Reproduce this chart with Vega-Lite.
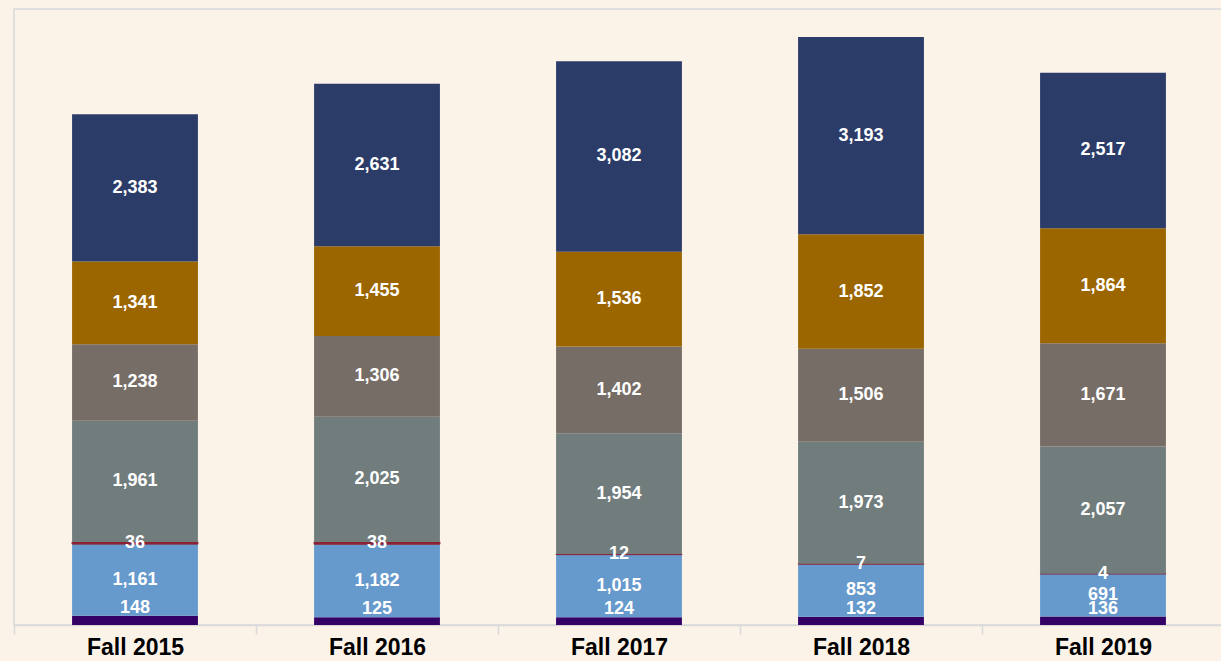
{
  "$schema": "https://vega.github.io/schema/vega-lite/v6.json",
  "width": 1210,
  "height": 616,
  "autosize": {"type": "none"},
  "padding": {"left": 14, "top": 9, "right": 0, "bottom": 36},
  "background": "#FBF2E8",
  "config": {"view": {"stroke": "#d9d9d9", "strokeWidth": 1.5}, "font": "Liberation Sans"},
  "data": {
    "values": [
      {"year": "Fall 2015", "series": "Series 1", "order": 1, "value": 148},
      {"year": "Fall 2015", "series": "Series 2", "order": 2, "value": 1161},
      {"year": "Fall 2015", "series": "Series 3", "order": 3, "value": 36},
      {"year": "Fall 2015", "series": "Series 4", "order": 4, "value": 1961},
      {"year": "Fall 2015", "series": "Series 5", "order": 5, "value": 1238},
      {"year": "Fall 2015", "series": "Series 6", "order": 6, "value": 1341},
      {"year": "Fall 2015", "series": "Series 7", "order": 7, "value": 2383},
      {"year": "Fall 2016", "series": "Series 1", "order": 1, "value": 125},
      {"year": "Fall 2016", "series": "Series 2", "order": 2, "value": 1182},
      {"year": "Fall 2016", "series": "Series 3", "order": 3, "value": 38},
      {"year": "Fall 2016", "series": "Series 4", "order": 4, "value": 2025},
      {"year": "Fall 2016", "series": "Series 5", "order": 5, "value": 1306},
      {"year": "Fall 2016", "series": "Series 6", "order": 6, "value": 1455},
      {"year": "Fall 2016", "series": "Series 7", "order": 7, "value": 2631},
      {"year": "Fall 2017", "series": "Series 1", "order": 1, "value": 124},
      {"year": "Fall 2017", "series": "Series 2", "order": 2, "value": 1015},
      {"year": "Fall 2017", "series": "Series 3", "order": 3, "value": 12},
      {"year": "Fall 2017", "series": "Series 4", "order": 4, "value": 1954},
      {"year": "Fall 2017", "series": "Series 5", "order": 5, "value": 1402},
      {"year": "Fall 2017", "series": "Series 6", "order": 6, "value": 1536},
      {"year": "Fall 2017", "series": "Series 7", "order": 7, "value": 3082},
      {"year": "Fall 2018", "series": "Series 1", "order": 1, "value": 132},
      {"year": "Fall 2018", "series": "Series 2", "order": 2, "value": 853},
      {"year": "Fall 2018", "series": "Series 3", "order": 3, "value": 7},
      {"year": "Fall 2018", "series": "Series 4", "order": 4, "value": 1973},
      {"year": "Fall 2018", "series": "Series 5", "order": 5, "value": 1506},
      {"year": "Fall 2018", "series": "Series 6", "order": 6, "value": 1852},
      {"year": "Fall 2018", "series": "Series 7", "order": 7, "value": 3193},
      {"year": "Fall 2019", "series": "Series 1", "order": 1, "value": 136},
      {"year": "Fall 2019", "series": "Series 2", "order": 2, "value": 691},
      {"year": "Fall 2019", "series": "Series 3", "order": 3, "value": 4},
      {"year": "Fall 2019", "series": "Series 4", "order": 4, "value": 2057},
      {"year": "Fall 2019", "series": "Series 5", "order": 5, "value": 1671},
      {"year": "Fall 2019", "series": "Series 6", "order": 6, "value": 1864},
      {"year": "Fall 2019", "series": "Series 7", "order": 7, "value": 2517}
    ]
  },
  "encoding": {
    "x": {
      "field": "year",
      "type": "nominal",
      "sort": null,
      "scale": {"paddingInner": 0.48, "paddingOuter": 0.24},
      "axis": {
        "title": null,
        "labelAngle": 0,
        "domainColor": "#d9d9d9",
        "domainWidth": 1.5,
        "tickColor": "#d9d9d9",
        "tickWidth": 1.5,
        "tickSize": 9,
        "tickOffset": -121,
        "labelOffset": 121,
        "labelFontSize": 23,
        "labelFontWeight": "bold",
        "labelColor": "#000000",
        "labelPadding": 2
      }
    }
  },
  "layer": [
    {
      "mark": {"type": "bar", "stroke": "#8B2335"},
      "encoding": {
        "y": {
          "field": "value",
          "type": "quantitative",
          "stack": "zero",
          "scale": {"domain": [0, 9970], "nice": false, "zero": true},
          "axis": null
        },
        "order": {"field": "order", "type": "quantitative", "sort": "ascending"},
        "strokeWidth": {"condition": {"test": "datum.series == 'Series 3'", "value": 1}, "value": 0},
        "color": {
          "field": "series",
          "type": "nominal",
          "scale": {
            "domain": ["Series 1", "Series 2", "Series 3", "Series 4", "Series 5", "Series 6", "Series 7"],
            "range": ["#330066", "#6699CC", "#8B2335", "#717D7D", "#776D67", "#9B6600", "#2B3C69"]
          },
          "legend": null
        }
      }
    },
    {
      "transform": [
        {"stack": "value", "groupby": ["year"], "sort": [{"field": "order", "order": "ascending"}], "as": ["v0", "v1"]},
        {"fold": ["v0", "v1"], "as": ["edge", "pos"]},
        {"aggregate": [{"op": "mean", "field": "pos", "as": "mid"}], "groupby": ["year", "series", "order", "value"]},
        {"filter": "datum.order > 1"}
      ],
      "mark": {"type": "text", "color": "white", "fontWeight": "bold", "fontSize": 18, "baseline": "middle"},
      "encoding": {
        "y": {"field": "mid", "type": "quantitative"},
        "text": {"field": "value", "type": "quantitative", "format": ","}
      }
    },
    {
      "transform": [
        {"stack": "value", "groupby": ["year"], "sort": [{"field": "order", "order": "ascending"}], "as": ["v0", "v1"]},
        {"fold": ["v0", "v1"], "as": ["edge", "pos"]},
        {"aggregate": [{"op": "mean", "field": "pos", "as": "mid"}], "groupby": ["year", "series", "order", "value"]},
        {"filter": "datum.order == 1"}
      ],
      "mark": {"type": "text", "color": "white", "fontWeight": "bold", "fontSize": 18, "baseline": "middle", "dy": -12},
      "encoding": {
        "y": {"field": "mid", "type": "quantitative"},
        "text": {"field": "value", "type": "quantitative", "format": ","}
      }
    }
  ]
}
